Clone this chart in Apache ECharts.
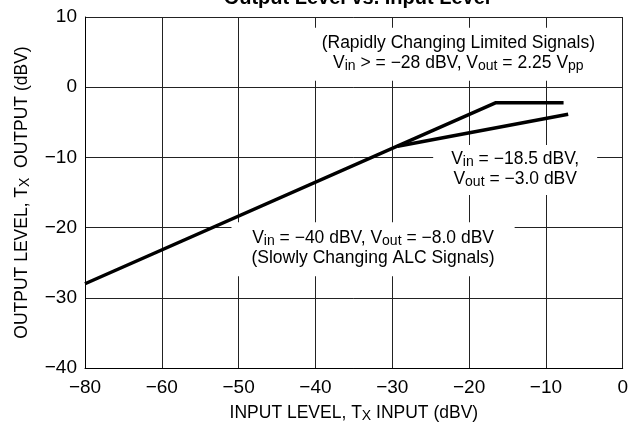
<!DOCTYPE html>
<html><head><meta charset="utf-8">
<script src="https://cdn.jsdelivr.net/npm/echarts@6/dist/echarts.min.js"></script>
<style>html,body{margin:0;padding:0;background:#fff}#c{width:631px;height:430px}</style>
</head><body><div id="c"></div>
<script>
// Axis positions (the axis is drawn with 7 equal divisions; leftmost tick is labelled −80)
const xTickValues = [-70, -60, -50, -40, -30, -20, -10, 0];
const xTickLabels = ['−80', '−60', '−50', '−40', '−30', '−20', '−10', '0'];
const yTickValues = [-40, -30, -20, -10, 0, 10];
const yTickLabels = ['−40', '−30', '−20', '−10', '0', '10'];

// Curves (x in axis units, y in dBV)
const mainX = [-70, -16.5, -7.7];
const mainY = [-28, -2.2, -2.2];
const branchX = [-29.3, -7.1];
const branchY = [-8.4, -3.85];

// Annotation anchor points (axis units)
const noteX = [-21.4, -14, -32.5];
const noteY = [4.7, -11.8, -23.1];
const noteText = [
  '{t|(Rapidly Changing Limited Signals)}\n{t|V}{s|in}{t| > = −28 dBV, V}{s|out}{t| = 2.25 V}{s|pp}',
  '{t|V}{s|in}{t| = −18.5 dBV,}\n{t|V}{s|out}{t| = −3.0 dBV}',
  '{t|V}{s|in}{t| = −40 dBV, V}{s|out}{t| = −8.0 dBV}\n{t|(Slowly Changing ALC Signals)}'
];
const notePad = [[5, 18, 8, 18], [4, 18, 6, 18], [6, 20, 8, 20]];

const FONT = 'Liberation Sans, Arial, sans-serif';
const NARROW = 'Liberation Sans Narrow, Liberation Sans, Arial, sans-serif';
const rich = {
  t: { fontSize: 17.5, lineHeight: 20, fontFamily: FONT, color: '#000' },
  s: { fontSize: 14, lineHeight: 10, fontFamily: FONT, color: '#000', verticalAlign: 'bottom' }
};

const chart = echarts.init(document.getElementById('c'), null, { renderer: 'canvas' });
chart.setOption({
  animation: false,
  backgroundColor: '#fff',
  title: {
    text: 'Output Level vs. Input Level',
    left: 352, textAlign: 'center', top: -17,
    textStyle: { fontSize: 20, fontWeight: 'bold', fontFamily: FONT, color: '#000' }
  },
  grid: { left: 85, right: 5, top: 17, bottom: 62, containLabel: false },
  xAxis: {
    type: 'value', min: -70, max: 0, interval: 10,
    axisLine: { show: true, onZero: false, lineStyle: { color: '#000', width: 1 } },
    axisTick: { show: false },
    splitLine: { show: true, lineStyle: { color: '#222', width: 1 } },
    axisLabel: {
      margin: 10, color: '#000', fontSize: 19, fontFamily: NARROW,
      formatter: v => { const i = xTickValues.indexOf(v); return i >= 0 ? xTickLabels[i] : ''; }
    },
    name: '{t|INPUT LEVEL, T}{s|X}{t| INPUT (dBV)}',
    nameLocation: 'middle', nameGap: 35,
    nameTextStyle: { rich: rich }
  },
  yAxis: {
    type: 'value', min: -40, max: 10, interval: 10,
    axisLine: { show: true, onZero: false, lineStyle: { color: '#000', width: 1 } },
    axisTick: { show: false },
    splitLine: { show: true, lineStyle: { color: '#222', width: 1 } },
    axisLabel: {
      margin: 8, color: '#000', fontSize: 19, fontFamily: NARROW,
      formatter: v => { const i = yTickValues.indexOf(v); return i >= 0 ? yTickLabels[i] : ''; }
    },
    name: '{t|OUTPUT LEVEL, T}{s|X}{t|  OUTPUT (dBV)}',
    nameLocation: 'middle', nameGap: 53, nameRotate: 90,
    nameTextStyle: { rich: rich }
  },
  series: [
    {
      type: 'line', silent: true, symbol: 'none',
      data: mainX.map((x, i) => [x, mainY[i]]),
      lineStyle: { color: '#000', width: 3.5 },
      markPoint: {
        silent: true, symbol: 'circle', symbolSize: 1,
        itemStyle: { color: 'rgba(0,0,0,0)' },
        data: noteX.map((x, i) => ({
          coord: [x, noteY[i]],
          label: {
            show: true, position: 'inside', formatter: noteText[i], align: 'center',
            backgroundColor: '#fff', padding: notePad[i], rich: rich
          }
        }))
      }
    },
    {
      type: 'line', silent: true, symbol: 'none',
      data: branchX.map((x, i) => [x, branchY[i]]),
      lineStyle: { color: '#000', width: 3.5 }
    }
  ]
});
</script>
</body></html>
